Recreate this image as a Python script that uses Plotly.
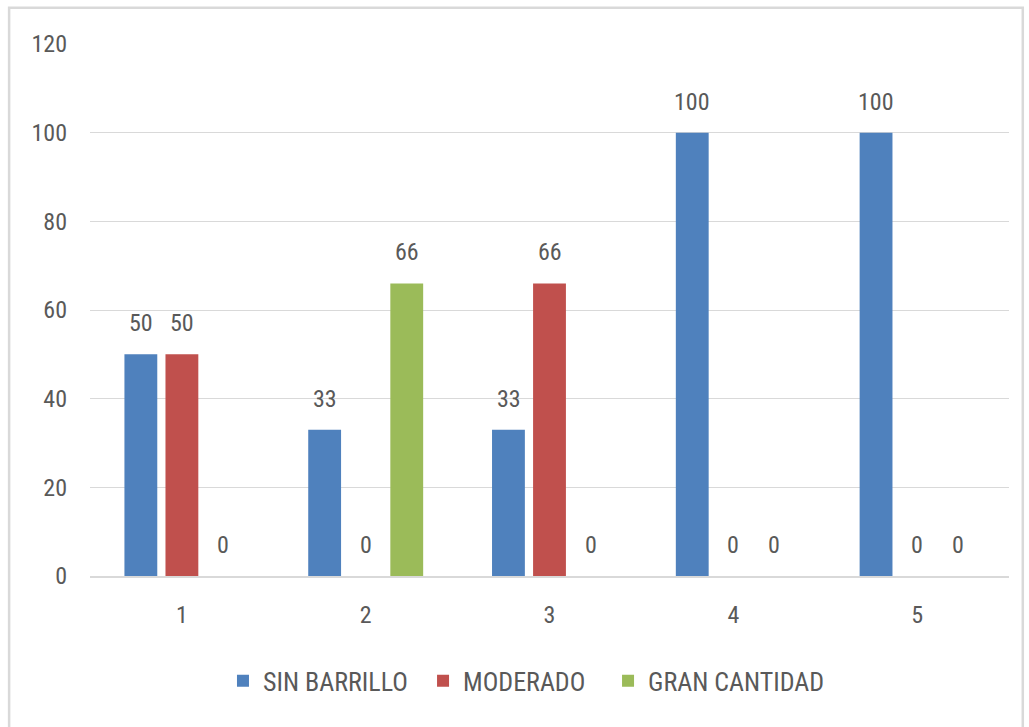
import plotly.graph_objects as go

categories = ["1", "2", "3", "4", "5"]
sin_barrillo = [50, 33, 33, 100, 100]
moderado = [50, 0, 66, 0, 0]
gran_cantidad = [0, 66, 0, 0, 0]
series_names = ["SIN BARRILLO", "MODERADO", "GRAN CANTIDAD"]
series_values = [sin_barrillo, moderado, gran_cantidad]
colors = ["#4F81BD", "#C0504D", "#9BBB59"]
y_ticks = [0, 20, 40, 60, 80, 100, 120]

FONT = "Liberation Sans Narrow, Roboto Condensed, Arial Narrow, Open Sans, sans-serif"
TXT = "#595959"
FS = 24

legend_ids = ["legend", "legend2", "legend3"]
legend_x = [0.1447, 0.3624, 0.5637]

fig = go.Figure()
for name, vals, col, lg in zip(series_names, series_values, colors, legend_ids):
    fig.add_trace(go.Bar(x=categories, y=vals, name=name, legend=lg,
                         marker=dict(color=col, line=dict(width=0))))

# data labels (x given as category index on the category axis)
offsets = [-41, 0, 41]
for off, vals in zip(offsets, series_values):
    for i, v in enumerate(vals):
        fig.add_annotation(x=i, y=v, text=str(v), showarrow=False, xshift=off, yshift=31,
                           font=dict(family=FONT, size=FS, color=TXT), yanchor="middle")

# chart frame
fig.add_shape(type="rect", xref="paper", yref="paper", x0=-0.088, x1=1.015, y0=-0.3, y1=1.068,
              line=dict(color="#D9D9D9", width=2.5), layer="below")

legend_style = dict(orientation="h", xanchor="left", y=-0.197, yanchor="middle",
                    font=dict(family=FONT, size=26, color=TXT), itemwidth=30,
                    bgcolor="rgba(0,0,0,0)")

fig.update_layout(
    width=1029, height=727,
    margin=dict(l=90, r=20, t=44, b=151),
    paper_bgcolor="white", plot_bgcolor="white",
    barmode="group", bargap=0.33, bargroupgap=0.2,
    font=dict(family=FONT, size=FS, color=TXT),
    showlegend=True,
    legend=dict(x=legend_x[0], **legend_style),
    legend2=dict(x=legend_x[1], **legend_style),
    legend3=dict(x=legend_x[2], **legend_style),
    xaxis=dict(type="category", showgrid=False, showline=True, linecolor="#D9D9D9", linewidth=1.5,
               ticks="", tickfont=dict(size=FS, color=TXT), ticklabelstandoff=16, fixedrange=True),
    yaxis=dict(range=[0, 120], tickvals=y_ticks, showgrid=True, gridcolor="#D9D9D9", gridwidth=1.2,
               zeroline=False, showline=False, ticks="", tickfont=dict(size=FS, color=TXT),
               ticklabelstandoff=22),
)

fig.write_html("out.html")
